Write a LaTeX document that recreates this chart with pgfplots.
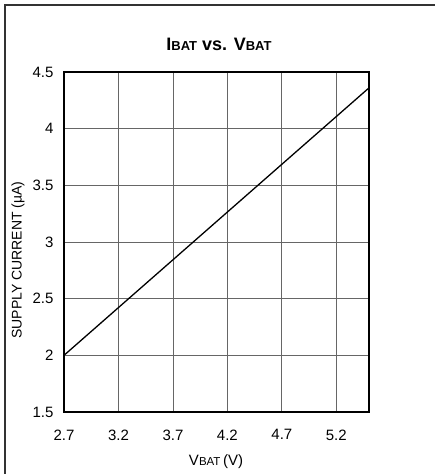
\documentclass[border=0pt]{standalone}
\usepackage{pgfplots}
\pgfplotsset{compat=1.18}
\usepackage{fontspec}
\setmainfont{Liberation Sans}
\begin{document}
\begin{tikzpicture}[x=1pt,y=1pt]
\useasboundingbox (-64,-62) rectangle (371,412);
\draw[line width=1.5pt, black!80] (-59,-62) -- (-59,407) -- (371,407);
\begin{axis}[
  at={(0,0)}, anchor=origin,
  scale only axis, width=305pt, height=340pt,
  xmin=2.7, xmax=5.5, ymin=1.5, ymax=4.5,
  xtick={2.7,3.2,3.7,4.2,4.7,5.2},
  ytick={1.5,2,2.5,3,3.5,4,4.5},
  xticklabels={2.7,3.2,3.7,4.2,4.7,5.2},
  yticklabels={1.5,2,2.5,3,3.5,4,4.5},
  major tick length=0pt,
  grid=major,
  major grid style={line width=0.8pt, black!60},
  axis line style={line width=1.3pt, black},
  tick label style={font=\fontsize{15}{15}\selectfont},
  xticklabel style={yshift=-14pt},
  yticklabel style={xshift=-7pt},
  clip=false,
]
\addplot[black, line width=1.3pt] coordinates {(2.7,2.0) (5.5,4.36)};
\end{axis}
\node at (155,368) {\fontsize{18}{18}\selectfont\bfseries I{\fontsize{13}{13}\selectfont BAT} vs. V{\fontsize{13}{13}\selectfont BAT}};
\node at (152,-50) {\fontsize{15}{15}\selectfont V{\fontsize{11.5}{11.5}\selectfont BAT}\,(V)};
\node[rotate=90] at (-46,152) {\fontsize{14}{14}\selectfont SUPPLY CURRENT (µA)};
\end{tikzpicture}
\end{document}
